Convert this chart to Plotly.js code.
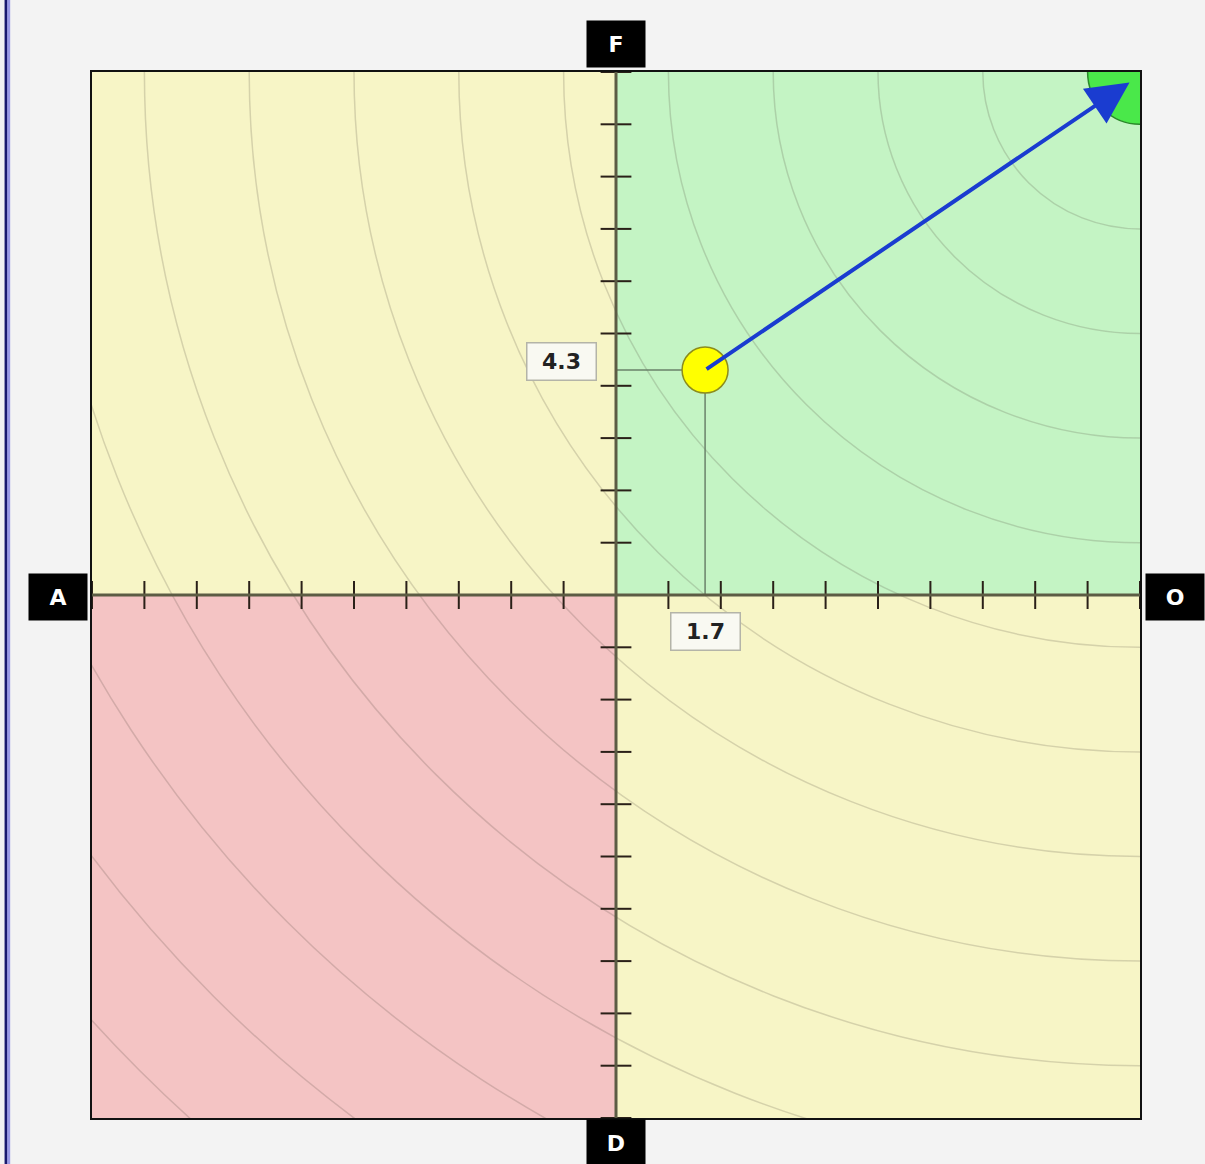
<!DOCTYPE html>
<html>
<head>
<meta charset="utf-8">
<script src="https://cdn.plot.ly/plotly-3.0.1.min.js"></script>
<style>
  html, body { margin: 0; padding: 0; background: #ffffff; }
  #plot { width: 1205px; height: 1164px; }
</style>
</head>
<body>
<div id="plot"></div>
<script>
// quadrant names on the four sides
let axisNames = { left: "A", right: "O", top: "F", bottom: "D" };

// current position
let pointX = [1.7];
let pointY = [4.3];

// target corner the arrow points to
let targetX = 9.8;
let targetY = 9.8;
let cornerX = 10;
let cornerY = 10;

// radii of the faint rings round the corner
let ringRadii = [3, 5, 7, 9, 11, 13, 15, 17, 19, 21, 23, 25, 27];
let goalRadius = 1;

// tick positions along both axes
let tickVals = [-10, -9, -8, -7, -6, -5, -4, -3, -2, -1, 1, 2, 3, 4, 5, 6, 7, 8, 9, 10];
let tickZeros = tickVals.map(v => 0);

let shapes = [
  // quadrant fills
  { type: "rect", xref: "x", yref: "y", x0: -10, x1: 0, y0: 0, y1: 10, fillcolor: "#f7f5c6", line: { width: 0 }, layer: "below" },
  { type: "rect", xref: "x", yref: "y", x0: 0, x1: 10, y0: 0, y1: 10, fillcolor: "#c4f4c4", line: { width: 0 }, layer: "below" },
  { type: "rect", xref: "x", yref: "y", x0: -10, x1: 0, y0: -10, y1: 0, fillcolor: "#f4c4c4", line: { width: 0 }, layer: "below" },
  { type: "rect", xref: "x", yref: "y", x0: 0, x1: 10, y0: -10, y1: 0, fillcolor: "#f7f5c6", line: { width: 0 }, layer: "below" }
];

ringRadii.forEach(function (r) {
  shapes.push({
    type: "circle", xref: "x", yref: "y",
    x0: cornerX - r, x1: cornerX + r, y0: cornerY - r, y1: cornerY + r,
    line: { color: "rgba(80,70,60,0.2)", width: 1.5 }, layer: "below"
  });
});

// green goal patch
shapes.push({
  type: "circle", xref: "x", yref: "y",
  x0: cornerX - goalRadius, x1: cornerX + goalRadius, y0: cornerY - goalRadius, y1: cornerY + goalRadius,
  fillcolor: "#4ae84a", line: { color: "#2a8a2a", width: 1.5 }, layer: "below"
});

// centre axes
shapes.push({ type: "line", xref: "x", yref: "y", x0: -10, x1: 10, y0: 0, y1: 0, line: { color: "#5c5c44", width: 3 } });
shapes.push({ type: "line", xref: "x", yref: "y", x0: 0, x1: 0, y0: -10, y1: 10, line: { color: "#5c5c44", width: 3 } });

// blue stripe on the left edge of the window
shapes.push({ type: "line", xref: "paper", yref: "paper", x0: -0.0820, x1: -0.0820, y0: -0.05, y1: 1.07, line: { color: "#1a1a6e", width: 3 } });
shapes.push({ type: "line", xref: "paper", yref: "paper", x0: -0.0795, x1: -0.0795, y0: -0.05, y1: 1.07, line: { color: "#9a9ae6", width: 3 } });

let xTicks = {
  x: tickVals, y: tickZeros, mode: "markers", hoverinfo: "skip",
  marker: { symbol: "line-ns-open", size: 20, color: "#2a2018", line: { color: "#2a2018", width: 2 } }
};

let yTicks = {
  x: tickZeros, y: tickVals, mode: "markers", hoverinfo: "skip",
  marker: { symbol: "line-ew-open", size: 22, color: "#2a2018", line: { color: "#2a2018", width: 2 } }
};

let guideH = {
  x: [0, pointX[0]], y: [pointY[0], pointY[0]], mode: "lines",
  line: { color: "#6a826a", width: 1.5 }, hoverinfo: "skip"
};

let guideV = {
  x: [pointX[0], pointX[0]], y: [0, pointY[0]], mode: "lines",
  line: { color: "#6a826a", width: 1.5 }, hoverinfo: "skip"
};

let dot = {
  x: pointX, y: pointY, mode: "markers",
  marker: { size: 46, color: "#ffff00", line: { color: "#8c8c1c", width: 1.5 } }
};

let sideBox = function (text, x, y) {
  return {
    text: "<b>" + text + "</b>", xref: "paper", yref: "paper", x: x, y: y,
    xanchor: "center", yanchor: "middle",
    showarrow: false, bgcolor: "#000000", width: 50, height: 38, borderpad: 4,
    font: { family: "DejaVu Sans", size: 22, color: "#ffffff" }
  };
};

let annotations = [
  sideBox(axisNames.left, -0.0324, 0.498),
  sideBox(axisNames.right, 1.0334, 0.498),
  sideBox(axisNames.top, 0.5, 1.0268),
  sideBox(axisNames.bottom, 0.5, -0.0239),
  {
    text: "<b>" + pointY[0] + "</b>", xref: "x", yref: "y", x: 0, y: pointY[0],
    xshift: -55, yshift: 9, showarrow: false, bgcolor: "#f9f9f2",
    bordercolor: "#b4b4a8", borderwidth: 1.5, width: 64, height: 32, borderpad: 2,
    font: { family: "DejaVu Sans", size: 22, color: "#222222" }
  },
  {
    text: "<b>" + pointX[0] + "</b>", xref: "x", yref: "y", x: pointX[0], y: 0,
    yshift: -36, showarrow: false, bgcolor: "#f9f9f2",
    bordercolor: "#b4b4a8", borderwidth: 1.5, width: 64, height: 32, borderpad: 2,
    font: { family: "DejaVu Sans", size: 22, color: "#222222" }
  },
  {
    text: "", xref: "x", yref: "y", x: targetX, y: targetY,
    axref: "x", ayref: "y", ax: pointX[0], ay: pointY[0],
    showarrow: true, arrowhead: 2, arrowsize: 2.1, arrowwidth: 4,
    arrowcolor: "#1a3cd0", standoff: 0
  }
];

let layout = {
  width: 1205, height: 1164,
  margin: { l: 92, r: 65, t: 72, b: 46 },
  paper_bgcolor: "#f3f3f3",
  plot_bgcolor: "#f7f5c6",
  showlegend: false,
  xaxis: {
    range: [-10, 10], showgrid: false, zeroline: false, showticklabels: false,
    showline: true, mirror: true, linecolor: "#111111", linewidth: 2, fixedrange: true
  },
  yaxis: {
    range: [-10, 10], showgrid: false, zeroline: false, showticklabels: false,
    showline: true, mirror: true, linecolor: "#111111", linewidth: 2, fixedrange: true
  },
  shapes: shapes,
  annotations: annotations
};

Plotly.newPlot("plot", [xTicks, yTicks, guideH, guideV, dot], layout, { displayModeBar: false, staticPlot: true });
</script>
</body>
</html>
